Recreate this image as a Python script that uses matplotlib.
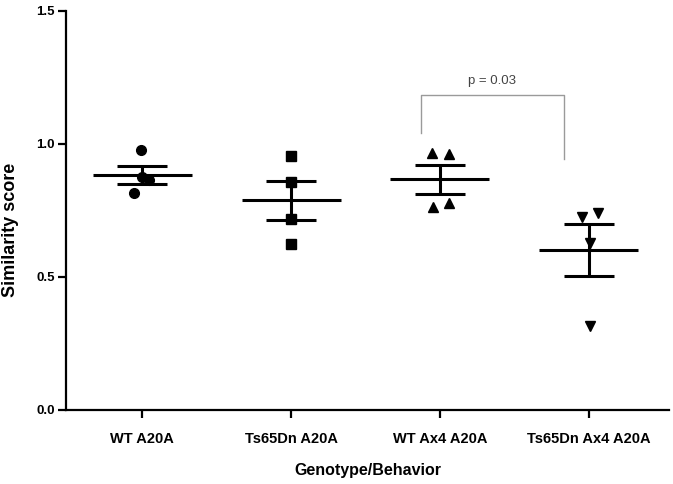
import numpy as np
import matplotlib
matplotlib.use("Agg")
import matplotlib.pyplot as plt

plt.rcParams['font.family'] = ['Liberation Sans', 'DejaVu Sans']

# ---- data ----
categories = ["WT A20A", "Ts65Dn A20A", "WT Ax4 A20A", "Ts65Dn Ax4 A20A"]
wt_a20a = [0.977, 0.877, 0.866, 0.817]
ts_a20a = [0.955, 0.858, 0.717, 0.623]
wt_ax4_a20a = [0.965, 0.961, 0.764, 0.779]
ts_ax4_a20a = [0.724, 0.742, 0.627, 0.316]
series = [wt_a20a, ts_a20a, wt_ax4_a20a, ts_ax4_a20a]
markers = ["o", "s", "^", "v"]
# horizontal scatter offsets of the points within each group
jitter = [
    [-0.007, 0.0, 0.047, -0.054],
    [0.0, 0.0, 0.0, 0.0],
    [-0.05, 0.063, -0.045, 0.059],
    [-0.045, 0.062, 0.007, 0.007],
]
yticks = [0.0, 0.5, 1.0, 1.5]
ytick_labels = ["0.0", "0.5", "1.0", "1.5"]
p_text = "p = 0.03"
bracket_x = [1.874, 1.874, 2.833, 2.833]
bracket_y = [1.040, 1.184, 1.184, 0.944]

# ---- figure ----
fig = plt.figure(figsize=(6.73, 4.84), dpi=100)
ax = fig.add_axes([0.0988, 0.1529, 0.994 - 0.0988, 0.9773 - 0.1529])

x = np.arange(len(categories))
for i, vals in enumerate(series):
    vals = np.asarray(vals)
    xs = x[i] + np.asarray(jitter[i])
    ax.plot(xs, vals, linestyle="none", marker=markers[i], color="black",
            markersize=7, clip_on=False, zorder=3)
    m = vals.mean()
    sem = vals.std(ddof=1) / np.sqrt(len(vals))
    ax.hlines(m, x[i] - 0.333, x[i] + 0.333, color="black", lw=2.2, zorder=4)
    ax.hlines([m - sem, m + sem], x[i] - 0.168, x[i] + 0.168, color="black", lw=2.2, zorder=4)
    ax.vlines(x[i], m - sem, m + sem, color="black", lw=2.2, zorder=4)

# significance bracket
ax.plot(bracket_x, bracket_y, color="#9a9a9a", lw=1.0, clip_on=False)
ax.text(np.mean(bracket_x), 1.238, p_text, ha="center", va="center",
        fontsize=9.5, color="#444444")

ax.set_xlim(-0.51, 3.54)
ax.set_ylim(0, 1.5)
ax.set_xticks(x)
ax.set_xticklabels(categories, fontsize=10.5, fontweight="bold")
ax.set_yticks(yticks)
ax.set_yticklabels(ytick_labels, fontsize=9.5, fontweight="bold")

for s in ["top", "right"]:
    ax.spines[s].set_visible(False)
for s in ["left", "bottom"]:
    ax.spines[s].set_linewidth(1.6)
ax.tick_params(axis="both", direction="out", length=6, width=1.6)
ax.tick_params(axis="y", pad=2.5)
ax.tick_params(axis="x", pad=10)

ax.set_ylabel("Similarity score", fontsize=13, fontweight="bold", va="center")
ax.yaxis.set_label_coords((11 - 66.5) / 602.0, 0.451)
ax.set_xlabel("Genotype/Behavior", fontsize=11.5, fontweight="bold", labelpad=12)

fig.savefig("out.png", dpi=100)
